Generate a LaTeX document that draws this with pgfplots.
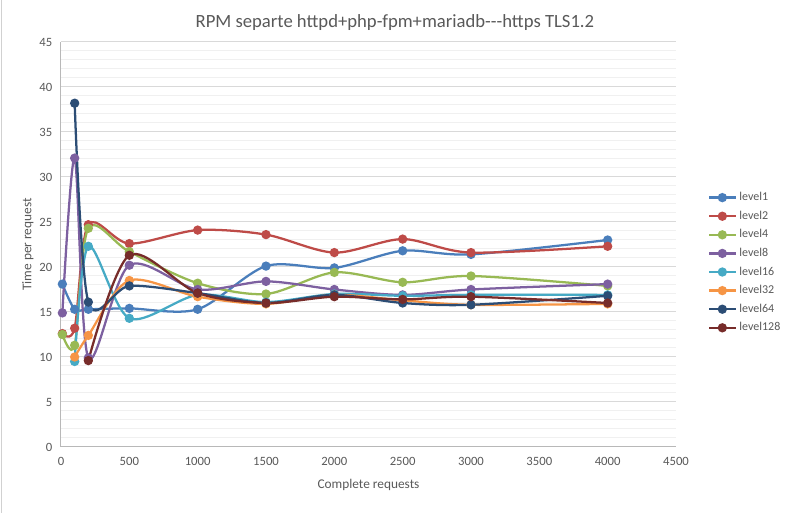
\documentclass[border=0pt]{standalone}
\usepackage{fontspec}
\setmainfont{Carlito}
\usepackage{pgfplots}
\pgfplotsset{compat=1.18}

\definecolor{cA}{HTML}{4A7EBB}
\definecolor{cB}{HTML}{BE4B48}
\definecolor{cC}{HTML}{98B954}
\definecolor{cD}{HTML}{7D60A0}
\definecolor{cE}{HTML}{46AAC5}
\definecolor{cF}{HTML}{F69545}
\definecolor{cG}{HTML}{2C4D75}
\definecolor{cH}{HTML}{772C2A}
\definecolor{txt}{HTML}{595959}

\pgfplotsset{
  lvl/.style={color=#1, line width=1.7pt, smooth, tension=0.5,
    mark=*, mark size=2.6pt, mark options={solid, fill=#1, draw=#1}},
}

\begin{document}
\begin{tikzpicture}
\path[use as bounding box] (0,0) rectangle (592.5pt,384.75pt);
\draw[line width=0.75pt, color=black!18] (0.75pt,0) -- (0.75pt,384.75pt);
\begin{axis}[
  scale only axis,
  at={(45.75pt,49.5pt)}, anchor=south west,
  width=461.25pt, height=303.75pt,
  xmin=0, xmax=4500, ymin=0, ymax=45,
  xtick={0,500,...,4500}, ytick={0,5,...,45},
  minor y tick num=4,
  axis lines*=left,
  axis line style={color=black!28, line width=0.75pt},
  x axis line style={-}, y axis line style={-},
  major tick length=0pt, minor tick length=0pt,
  ymajorgrids, yminorgrids,
  major grid style={color=black!15, line width=0.75pt},
  minor grid style={color=black!6, line width=0.75pt},
  tick label style={font=\fontsize{9.5}{11}\selectfont, color=txt},
  /pgf/number format/assume math mode=true,
  /pgf/number format/1000 sep={},
  xticklabel style={yshift=-4pt},
  yticklabel style={xshift=-3pt},
  every axis title shift=0pt,
  title={RPM separte httpd+php-fpm+mariadb-{}-{}-https TLS1.2},
  title style={font=\fontsize{14}{16}\selectfont, color=txt, at={(0.543,1.037)}, anchor=base},
  xlabel={Complete requests},
  ylabel={Time per request},
  label style={font=\fontsize{10}{12}\selectfont, color=txt},
  xlabel style={at={(0.5,-0.094)}, anchor=center},
  ylabel style={at={(-0.054,0.5)}, anchor=center},
  legend style={at={(1.045,0.455)}, anchor=west, draw=none, fill=none,
    font=\fontsize{9}{10}\selectfont, text=txt, row sep=2.2pt,
    legend cell align=left},
  legend image code/.code={
    \draw[#1, mark repeat=2, mark phase=2] plot coordinates {(0cm,0cm) (0.35cm,0cm) (0.7cm,0cm)};},
  clip=false,
]
\addplot[lvl=cA] coordinates {(10,18.1)(100,15.3)(200,15.3)(500,15.4)(1000,15.3)(1500,20.1)(2000,19.9)(2500,21.8)(3000,21.4)(4000,23.0)};
\addplot[lvl=cB] coordinates {(10,12.6)(100,13.2)(200,24.7)(500,22.6)(1000,24.1)(1500,23.6)(2000,21.6)(2500,23.1)(3000,21.6)(4000,22.3)};
\addplot[lvl=cC] coordinates {(10,12.5)(100,11.3)(200,24.3)(500,21.7)(1000,18.2)(1500,17.0)(2000,19.4)(2500,18.3)(3000,19.0)(4000,17.9)};
\addplot[lvl=cD] coordinates {(10,14.9)(100,32.1)(200,9.9)(500,20.2)(1000,17.5)(1500,18.4)(2000,17.5)(2500,16.9)(3000,17.5)(4000,18.1)};
\addplot[lvl=cE] coordinates {(100,9.5)(200,22.3)(500,14.3)(1000,16.9)(1500,16.1)(2000,17.0)(2500,16.8)(3000,16.9)(4000,16.9)};
\addplot[lvl=cF] coordinates {(100,10.0)(200,12.4)(500,18.5)(1000,16.7)(1500,15.9)(2000,16.9)(2500,16.3)(3000,15.8)(4000,15.9)};
\addplot[lvl=cG] coordinates {(100,38.2)(200,16.1)(500,17.9)(1000,17.1)(1500,16.0)(2000,16.9)(2500,16.0)(3000,15.8)(4000,16.8)};
\addplot[lvl=cH] coordinates {(200,9.6)(500,21.3)(1000,17.1)(1500,16.0)(2000,16.7)(2500,16.4)(3000,16.7)(4000,16.0)};
\legend{level1,level2,level4,level8,level16,level32,level64,level128}
\end{axis}
\end{tikzpicture}
\end{document}
